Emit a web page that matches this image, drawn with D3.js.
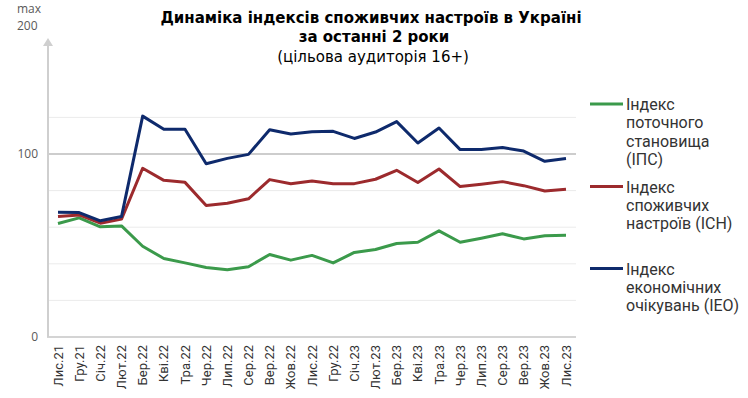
<!DOCTYPE html>
<html>
<head>
<meta charset="utf-8">
<title>Індекси споживчих настроїв</title>
<script src="https://cdn.jsdelivr.net/npm/d3@7"></script>
<style>
  body { margin: 0; background: #fff; }
  #chart { width: 748px; height: 398px; }
  .title { font-family: "DejaVu Sans", Verdana, sans-serif; fill: #000; text-anchor: middle; }
  .ylab { font-family: "Open Sans", sans-serif; font-size: 12px; fill: #595959; }
  .xlab { font-family: Roboto, "Liberation Sans", sans-serif; font-size: 13px; fill: #333; }
  .leg { font-family: Roboto, sans-serif; font-size: 16px; fill: #333; }
</style>
</head>
<body>
<div id="chart"></div>
<script>
var months = ['Лис.21','Гру.21','Січ.22','Лют.22','Бер.22','Кві.22','Тра.22','Чер.22','Лип.22','Сер.22',
  'Вер.22','Жов.22','Лис.22','Гру.22','Січ.23','Лют.23','Бер.23','Кві.23','Тра.23','Чер.23',
  'Лип.23','Сер.23','Вер.23','Жов.23','Лис.23'];

var ips = [62, 65.1, 60.2, 60.7, 49.6, 42.9, 40.5, 38, 36.7, 38.4, 45.1, 42, 44.6, 40.5, 46.2, 47.8,
  51.1, 51.8, 58, 51.8, 54, 56.4, 53.6, 55.3, 55.6];
var isn = [65.8, 66.7, 62.2, 64.4, 92.2, 85.6, 84.5, 71.8, 73.1, 75.5, 86, 83.7, 85.2, 83.8, 83.8, 86.2,
  91.1, 84.4, 91.8, 82.2, 83.5, 84.9, 82.7, 79.8, 80.7];
var ieo = [68.2, 68, 63.5, 65.8, 120.7, 113.5, 113.5, 94.7, 97.6, 99.8, 113.3, 110.9, 112.1, 112.4, 108.5, 112,
  117.7, 106, 114.2, 102.4, 102.5, 103.5, 101.6, 96, 97.5];

var legendLines = [['Індекс', 'поточного', 'становища', '(ІПС)'], ['Індекс', 'споживчих', 'настроїв (ІСН)'], ['Індекс', 'економічних', 'очікувань (ІЕО)']];
var colors = ['#3b9a4b', '#9c2a2d', '#0e2a6c'];
var gridValues = [20, 40, 60, 80, 120];

var width = 748, height = 398;
var svg = d3.select('#chart').append('svg')
  .attr('width', width).attr('height', height);

var x = d3.scalePoint().domain(months).range([58, 566]);
var y = d3.scaleLinear().domain([0, 100]).range([337, 154]);

// light grid
svg.selectAll('.grid').data(gridValues).enter().append('line')
  .attr('x1', 48).attr('x2', 576)
  .attr('y1', function(d) { return y(d); }).attr('y2', function(d) { return y(d); })
  .attr('stroke', '#ebebeb').attr('stroke-width', 1);
// 100 line
svg.append('line').attr('x1', 48).attr('x2', 576).attr('y1', y(100)).attr('y2', y(100))
  .attr('stroke', '#bdbdbd').attr('stroke-width', 1.3);
// baseline
svg.append('line').attr('x1', 47).attr('x2', 576).attr('y1', y(0)).attr('y2', y(0))
  .attr('stroke', '#d4d4d4').attr('stroke-width', 2);
// y axis with arrow
svg.append('line').attr('x1', 48).attr('x2', 48).attr('y1', y(0)).attr('y2', 44)
  .attr('stroke', '#cfcfcf').attr('stroke-width', 2);
svg.append('path').attr('d', 'M43,46 L48,38 L53,46 Z').attr('fill', '#cfcfcf');

svg.append('text').attr('class', 'ylab').attr('x', 17).attr('y', 13).text('max');
svg.append('text').attr('class', 'ylab').attr('x', 17).attr('y', 30).text('200');
svg.append('text').attr('class', 'ylab').attr('x', 38).attr('y', y(100) + 4).attr('text-anchor', 'end').text('100');
svg.append('text').attr('class', 'ylab').attr('x', 38).attr('y', y(0) + 4).attr('text-anchor', 'end').text('0');

// x labels
svg.selectAll('.xlab').data(months).enter().append('text')
  .attr('class', 'xlab')
  .attr('text-anchor', 'end')
  .attr('transform', function(d) { return 'translate(' + (x(d) + 4.5) + ',345) rotate(-90)'; })
  .text(function(d) { return d; });

// lines
var line = d3.line()
  .x(function(d, i) { return x(months[i]); })
  .y(function(d) { return y(d); });
[ips, isn, ieo].forEach(function(s, k) {
  svg.append('path').datum(s)
    .attr('d', line)
    .attr('fill', 'none')
    .attr('stroke', colors[k])
    .attr('stroke-width', 3)
    .attr('stroke-linejoin', 'round');
});

// legend
var legY = [104, 186.5, 268.5];
legendLines.forEach(function(lines, k) {
  var g = svg.append('g').attr('transform', 'translate(590,' + legY[k] + ')');
  g.append('line').attr('x1', 0).attr('x2', 33).attr('y1', 0).attr('y2', 0)
    .attr('stroke', colors[k]).attr('stroke-width', 3);
  var t = g.append('text').attr('class', 'leg').attr('x', 36).attr('y', 6);
  lines.forEach(function(l, j) {
    t.append('tspan').attr('x', 36).attr('dy', j ? 18.4 : 0).text(l);
  });
});

// title
svg.append('text').attr('class', 'title').attr('x', 371).attr('y', 23)
  .style('font-weight', 'bold').style('font-size', '15px')
  .text('Динаміка індексів споживчих настроїв в Україні');
svg.append('text').attr('class', 'title').attr('x', 374).attr('y', 42)
  .style('font-weight', 'bold').style('font-size', '15px')
  .text('за останні 2 роки');
svg.append('text').attr('class', 'title').attr('x', 373).attr('y', 62)
  .style('font-size', '15px')
  .text('(цільова аудиторія 16+)');
</script>
</body>
</html>
